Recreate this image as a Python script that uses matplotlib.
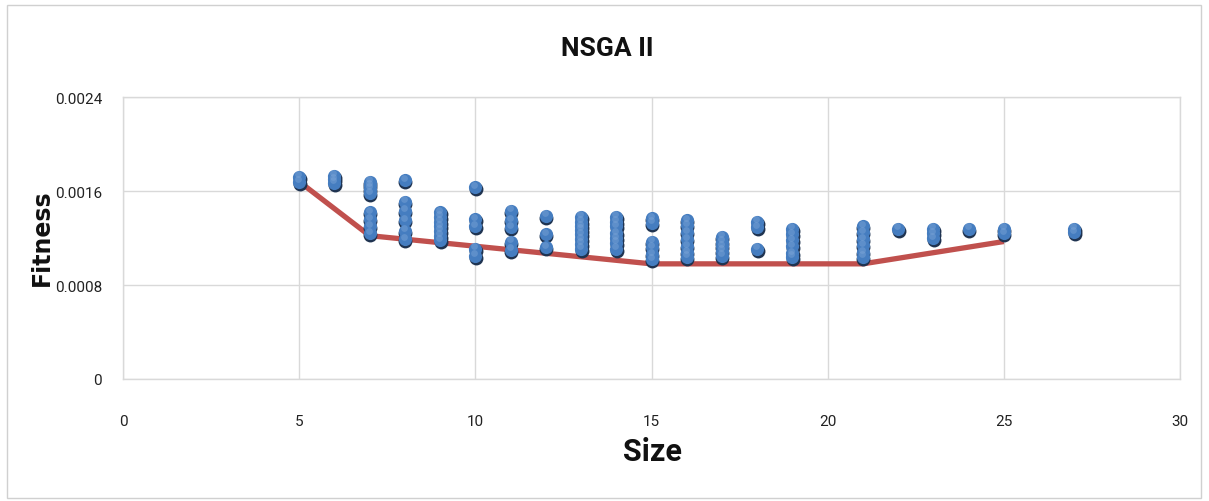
import matplotlib
matplotlib.use('Agg')
import matplotlib.pyplot as plt
import matplotlib.transforms as mtransforms
from matplotlib.patches import Rectangle

# ============ data ============ #
sizes = [5, 5,
         6, 6, 6,
         7, 7, 7, 7, 7, 7, 7, 7,
         8, 8, 8, 8, 8, 8,
         9, 9, 9, 9, 9, 9, 9,
         10, 10, 10, 10, 10,
         11, 11, 11, 11, 11,
         12, 12, 12,
         13, 13, 13, 13, 13, 13, 13, 13,
         14, 14, 14, 14, 14, 14, 14,
         15, 15, 15, 15, 15, 15,
         16, 16, 16, 16, 16, 16, 16,
         17, 17, 17, 17, 17,
         18, 18, 18,
         19, 19, 19, 19, 19, 19,
         21, 21, 21, 21, 21, 21,
         22,
         23, 23, 23,
         24,
         25, 25,
         27, 27]
fitness = [0.00172, 0.00168,
           0.00173, 0.00170, 0.00167,
           0.00168, 0.00165, 0.00162, 0.00158, 0.00142, 0.00136, 0.00130, 0.00124,
           0.00169, 0.00151, 0.00143, 0.00135, 0.00126, 0.00119,
           0.00142, 0.00138, 0.00134, 0.00130, 0.00126, 0.00122, 0.00118,
           0.00163, 0.00136, 0.00130, 0.00111, 0.00105,
           0.00143, 0.00135, 0.00129, 0.00117, 0.00110,
           0.00139, 0.00123, 0.00112,
           0.00138, 0.00134, 0.00130, 0.00127, 0.00123, 0.00119, 0.00115, 0.00111,
           0.00138, 0.00134, 0.00130, 0.00124, 0.00120, 0.00116, 0.00111,
           0.00137, 0.00133, 0.00117, 0.00112, 0.00106, 0.00102,
           0.00135, 0.00131, 0.00125, 0.00119, 0.00113, 0.00108, 0.00104,
           0.00121, 0.00117, 0.00113, 0.00109, 0.00105,
           0.00134, 0.00129, 0.00111,
           0.00128, 0.00123, 0.00118, 0.00113, 0.00107, 0.00104,
           0.00130, 0.00125, 0.00119, 0.00114, 0.00108, 0.00104,
           0.00128,
           0.00128, 0.00124, 0.00120,
           0.00128,
           0.00128, 0.00124,
           0.00128, 0.00125]

front_sizes = [5, 7, 15, 21, 25]
front_fitness = [0.00168, 0.00122, 0.00098, 0.00098, 0.00117]

x_ticks = [0, 5, 10, 15, 20, 25, 30]
y_ticks = [0, 0.0008, 0.0016, 0.0024]
y_tick_labels = ['0', '0.0008', '0.0016', '0.0024']

# ============ figure ============ #
W, H = 1209, 502
fig = plt.figure(figsize=(W / 100, H / 100), dpi=100)
fig.patch.set_facecolor('white')

# outer chart frame
fig.patches.append(Rectangle((7 / W, 1 - 499 / H), (1201 - 7) / W, (499 - 6) / H,
                             transform=fig.transFigure, fill=False,
                             edgecolor='#d0d0d0', linewidth=1.0))

ax = fig.add_axes([123 / W, 1 - 380 / H, (1180 - 123) / W, (380 - 98) / H])

fam = ['Roboto', 'DejaVu Sans']
grid_c = '#d9d9d9'

ax.set_xlim(0, 30)
ax.set_ylim(0, 0.0024)
ax.set_xticks(x_ticks)
ax.set_xticklabels([str(t) for t in x_ticks], family=fam, fontsize=11, color='#222222')
ax.set_yticks(y_ticks)
ax.set_yticklabels(y_tick_labels, family=fam, fontsize=11, color='#222222')
ax.tick_params(axis='both', length=0)
ax.tick_params(axis='x', pad=25)
ax.tick_params(axis='y', pad=15)
ax.grid(True, color=grid_c, linewidth=1.0)
ax.set_axisbelow(True)
for sp in ax.spines.values():
    sp.set_color(grid_c)
    sp.set_linewidth(1.0)

# pareto line
ax.plot(front_sizes, front_fitness, color='#c0504d', linewidth=3.8,
        solid_capstyle='butt', zorder=2)

# sphere-like markers: shadow, body, highlight
shadow_tr = mtransforms.offset_copy(ax.transData, fig=fig, x=0.5, y=-2.0, units='dots')
hl_tr = mtransforms.offset_copy(ax.transData, fig=fig, x=-1.0, y=2.5, units='dots')
ax.scatter(sizes, fitness, s=100, color='#1f3350', linewidths=0,
           transform=shadow_tr, zorder=3)
ax.scatter(sizes, fitness, s=90, color='#457dc0', linewidths=0, zorder=4)
ax.scatter(sizes, fitness, s=24, color='#7ea6d8', alpha=0.45, linewidths=0,
           transform=hl_tr, zorder=5)

# texts
fig.text(607 / W, 1 - 49 / H, 'NSGA II', ha='center', va='center',
         family=fam, fontweight='bold', fontsize=19, color='#111111')
fig.text(652 / W, 1 - 452 / H, 'Size', ha='center', va='center',
         family=fam, fontweight='bold', fontsize=22, color='#111111')
fig.text(42 / W, 1 - 238 / H, 'Fitness', ha='center', va='center', rotation=90,
         family='DejaVu Sans', fontweight='bold', fontsize=17, color='#111111')

fig.savefig('out.png', dpi=100)
